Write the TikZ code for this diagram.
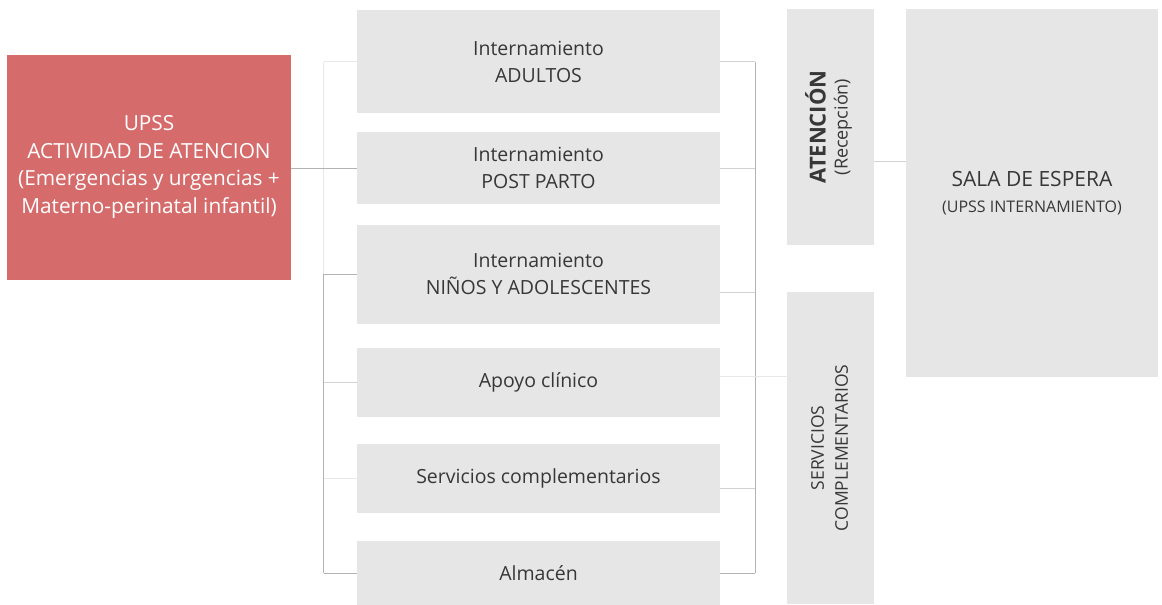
\documentclass[tikz,border=0pt]{standalone}
\usepackage{fontspec}
\setmainfont{Open Sans}
\usepackage{graphicx}
\usepackage{tikz}
\usetikzlibrary{positioning, calc}
\usepackage{xcolor}
\definecolor{upssRed}{RGB}{214,107,107}
\definecolor{boxFill}{RGB}{230,230,230}
\definecolor{boxText}{RGB}{55,55,55}
\tikzset{
    font=\fontsize{19.5}{27}\selectfont,
    % Colors
    boxGray/.style={fill=boxFill, text=boxText},
    boxRed/.style={fill=upssRed, text=white},
    % Shapes
    area/.style={rectangle, inner sep=0pt, minimum width=363pt, align=center, boxGray},
    side/.style={rectangle, inner sep=0pt, minimum width=87pt, align=center, boxGray},
    % Lines
    link/.style={draw=gray!60, line width=1pt},
    soft/.style={draw=gray!35, line width=1pt},
    faint/.style={draw=gray!18, line width=1pt}
}

\begin{document}
\begin{tikzpicture}[x=1pt, y=-1pt, node distance=22pt]
\useasboundingbox (0,0) rectangle (1162,605);

\node[rectangle, boxRed, minimum width=284pt, minimum height=225pt, align=center,
      font=\fontsize{20.8}{27.7}\selectfont] (upss) at (149,167)
      {UPSS\\ACTIVIDAD DE ATENCION\\(Emergencias y urgencias +\\Materno-perinatal infantil)};

\node[area, minimum height=103pt] (adultos) at (538.5,61.5) {Internamiento\\ADULTOS};
\node[area, minimum height=72pt, below=19pt of adultos] (postparto) {Internamiento\\POST PARTO};
\node[area, minimum height=99pt, below=20pt of postparto] (ninos) {Internamiento\\NIÑOS Y ADOLESCENTES};
\node[area, minimum height=69pt, below=24pt of ninos] (apoyo) {Apoyo clínico};
\node[area, minimum height=69pt, below=26pt of apoyo] (servcomp) {Servicios complementarios};
\node[area, minimum height=64pt, below=28pt of servcomp] (almacen) {Almacén};

\node[side, minimum height=236pt] (atencion) at (830.5,127)
      {\rotatebox{90}{\begin{tabular}{@{}c@{}}
        \fontsize{22}{26}\selectfont\bfseries ATENCIÓN\\[-5pt]
        \fontsize{18}{22}\selectfont (Recepción)\end{tabular}}};
\node[side, minimum height=312pt] (servicios) at (830.5,448)
      {\rotatebox{90}{\begin{tabular}{@{}c@{}}
        \fontsize{17.5}{20}\selectfont SERVICIOS\\[-3pt]
        \fontsize{17.5}{20}\selectfont COMPLEMENTARIOS\end{tabular}}};
\node[rectangle, boxGray, minimum width=252pt, minimum height=368pt, align=center,
      font=\fontsize{21}{26}\selectfont] (sala) at (1032,193)
      {SALA DE ESPERA\\{\fontsize{16}{19}\selectfont (UPSS INTERNAMIENTO)}};

% left bracket
\coordinate (lbr) at ($(adultos.west)+(-33,0)$);
\draw[faint] (lbr |- adultos.west) -- (lbr |- ninos.west);
\draw[link] (lbr |- ninos.west) -- (lbr |- almacen.west);
\draw[faint] (lbr |- adultos.west) -- (adultos.west);
\draw[link] (upss.east |- postparto.west) -- (postparto.west);
\draw[link] (lbr |- ninos.west) -- (ninos.west);
\draw[soft] (lbr |- apoyo.west) -- (apoyo.west);
\draw[faint] (lbr |- servcomp.west) -- (servcomp.west);
\draw[link] (lbr |- almacen.west) -- (almacen.west);

% right bracket
\coordinate (rbr) at ($(adultos.east)+(35,0)$);
\coordinate (ninosOut) at ([yshift=-18pt]ninos.east);
\coordinate (apoyoOut) at ([yshift=6pt]apoyo.east);
\coordinate (servOut) at ([yshift=-10pt]servcomp.east);
\coordinate (atenOut) at ([yshift=-34pt]atencion.east);
\draw[link] (rbr |- adultos.east) -- (rbr |- almacen.east);
\draw[soft] (adultos.east) -- (rbr |- adultos.east);
\draw[soft] (postparto.east) -- (rbr |- postparto.east);
\draw[soft] (ninosOut) -- (rbr |- ninosOut);
\draw[faint] (apoyoOut) -- (apoyoOut -| servicios.west);
\draw[soft] (servOut) -- (rbr |- servOut);
\draw[link] (almacen.east) -- (rbr |- almacen.east);
\draw[soft] (atenOut) -- (atenOut -| sala.west);

\end{tikzpicture}
\end{document}
